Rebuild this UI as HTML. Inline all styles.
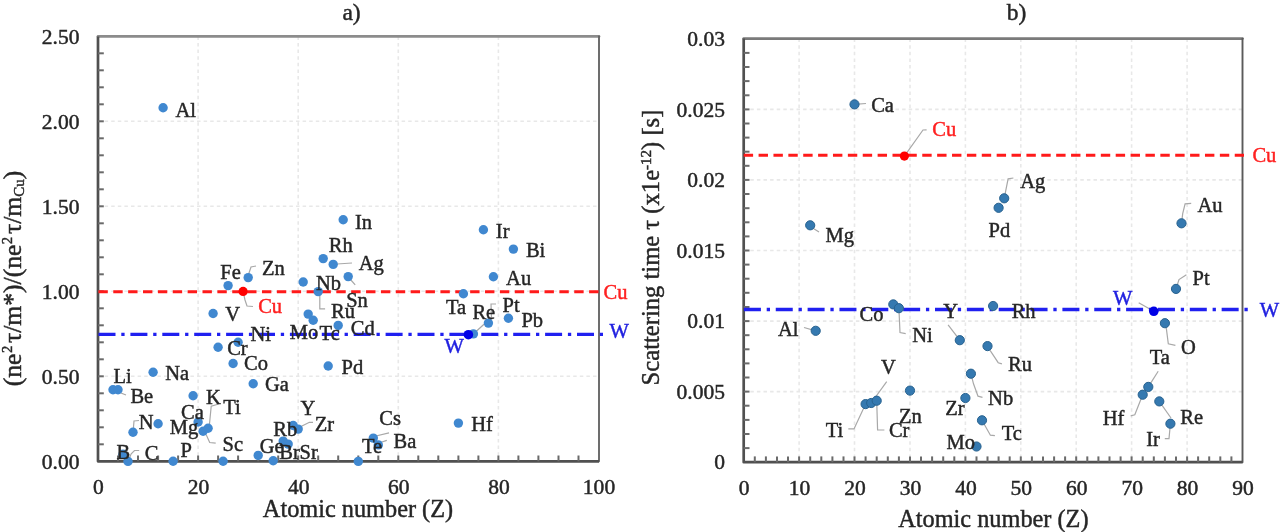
<!DOCTYPE html>
<html><head><meta charset="utf-8"><style>
html,body{margin:0;padding:0;background:#fff;}
svg{display:block;font-family:"Liberation Serif", serif;filter:blur(0.65px);}
</style></head><body>
<svg width="1280" height="532" viewBox="0 0 1280 532">
<rect width="1280" height="532" fill="#fff"/>
<line x1="198.1" y1="36.4" x2="198.1" y2="461.3" stroke="#e8e8e8" stroke-width="1.6" stroke-dasharray="3.5 3.1"/>
<line x1="298.2" y1="36.4" x2="298.2" y2="461.3" stroke="#e8e8e8" stroke-width="1.6" stroke-dasharray="3.5 3.1"/>
<line x1="398.3" y1="36.4" x2="398.3" y2="461.3" stroke="#e8e8e8" stroke-width="1.6" stroke-dasharray="3.5 3.1"/>
<line x1="498.4" y1="36.4" x2="498.4" y2="461.3" stroke="#e8e8e8" stroke-width="1.6" stroke-dasharray="3.5 3.1"/>
<line x1="98" y1="376.3" x2="599" y2="376.3" stroke="#e8e8e8" stroke-width="1.6" stroke-dasharray="3.5 3.1"/>
<line x1="98" y1="291.3" x2="599" y2="291.3" stroke="#e8e8e8" stroke-width="1.6" stroke-dasharray="3.5 3.1"/>
<line x1="98" y1="206.3" x2="599" y2="206.3" stroke="#e8e8e8" stroke-width="1.6" stroke-dasharray="3.5 3.1"/>
<line x1="98" y1="121.3" x2="599" y2="121.3" stroke="#e8e8e8" stroke-width="1.6" stroke-dasharray="3.5 3.1"/>
<path d="M98,36.4 L599,36.4" fill="none" stroke="#8c8c8c" stroke-width="2.7" stroke-linecap="round"/>
<path d="M599,36.4 L599,461.3" fill="none" stroke="#666666" stroke-width="1.9" stroke-linecap="round"/>
<path d="M98,36.4 L98,461.3 L599,461.3" fill="none" stroke="#505050" stroke-width="2.7" stroke-linejoin="round"/>
<line x1="98" y1="444.3" x2="103.8" y2="444.3" stroke="#6a6a6a" stroke-width="2"/>
<line x1="98" y1="427.3" x2="103.8" y2="427.3" stroke="#6a6a6a" stroke-width="2"/>
<line x1="98" y1="410.3" x2="103.8" y2="410.3" stroke="#6a6a6a" stroke-width="2"/>
<line x1="98" y1="393.3" x2="103.8" y2="393.3" stroke="#6a6a6a" stroke-width="2"/>
<line x1="98" y1="376.3" x2="103.8" y2="376.3" stroke="#6a6a6a" stroke-width="2"/>
<line x1="98" y1="359.3" x2="103.8" y2="359.3" stroke="#6a6a6a" stroke-width="2"/>
<line x1="98" y1="342.3" x2="103.8" y2="342.3" stroke="#6a6a6a" stroke-width="2"/>
<line x1="98" y1="325.3" x2="103.8" y2="325.3" stroke="#6a6a6a" stroke-width="2"/>
<line x1="98" y1="308.3" x2="103.8" y2="308.3" stroke="#6a6a6a" stroke-width="2"/>
<line x1="98" y1="291.3" x2="103.8" y2="291.3" stroke="#6a6a6a" stroke-width="2"/>
<line x1="98" y1="274.3" x2="103.8" y2="274.3" stroke="#6a6a6a" stroke-width="2"/>
<line x1="98" y1="257.3" x2="103.8" y2="257.3" stroke="#6a6a6a" stroke-width="2"/>
<line x1="98" y1="240.3" x2="103.8" y2="240.3" stroke="#6a6a6a" stroke-width="2"/>
<line x1="98" y1="223.3" x2="103.8" y2="223.3" stroke="#6a6a6a" stroke-width="2"/>
<line x1="98" y1="206.3" x2="103.8" y2="206.3" stroke="#6a6a6a" stroke-width="2"/>
<line x1="98" y1="189.3" x2="103.8" y2="189.3" stroke="#6a6a6a" stroke-width="2"/>
<line x1="98" y1="172.3" x2="103.8" y2="172.3" stroke="#6a6a6a" stroke-width="2"/>
<line x1="98" y1="155.3" x2="103.8" y2="155.3" stroke="#6a6a6a" stroke-width="2"/>
<line x1="98" y1="138.3" x2="103.8" y2="138.3" stroke="#6a6a6a" stroke-width="2"/>
<line x1="98" y1="121.3" x2="103.8" y2="121.3" stroke="#6a6a6a" stroke-width="2"/>
<line x1="98" y1="104.3" x2="103.8" y2="104.3" stroke="#6a6a6a" stroke-width="2"/>
<line x1="98" y1="87.3" x2="103.8" y2="87.3" stroke="#6a6a6a" stroke-width="2"/>
<line x1="98" y1="70.3" x2="103.8" y2="70.3" stroke="#6a6a6a" stroke-width="2"/>
<line x1="98" y1="53.3" x2="103.8" y2="53.3" stroke="#6a6a6a" stroke-width="2"/>
<line x1="118.0" y1="461.3" x2="118.0" y2="455.5" stroke="#6a6a6a" stroke-width="2"/>
<line x1="138.0" y1="461.3" x2="138.0" y2="455.5" stroke="#6a6a6a" stroke-width="2"/>
<line x1="158.1" y1="461.3" x2="158.1" y2="455.5" stroke="#6a6a6a" stroke-width="2"/>
<line x1="178.1" y1="461.3" x2="178.1" y2="455.5" stroke="#6a6a6a" stroke-width="2"/>
<line x1="198.1" y1="461.3" x2="198.1" y2="455.5" stroke="#6a6a6a" stroke-width="2"/>
<line x1="218.1" y1="461.3" x2="218.1" y2="455.5" stroke="#6a6a6a" stroke-width="2"/>
<line x1="238.1" y1="461.3" x2="238.1" y2="455.5" stroke="#6a6a6a" stroke-width="2"/>
<line x1="258.2" y1="461.3" x2="258.2" y2="455.5" stroke="#6a6a6a" stroke-width="2"/>
<line x1="278.2" y1="461.3" x2="278.2" y2="455.5" stroke="#6a6a6a" stroke-width="2"/>
<line x1="298.2" y1="461.3" x2="298.2" y2="455.5" stroke="#6a6a6a" stroke-width="2"/>
<line x1="318.2" y1="461.3" x2="318.2" y2="455.5" stroke="#6a6a6a" stroke-width="2"/>
<line x1="338.2" y1="461.3" x2="338.2" y2="455.5" stroke="#6a6a6a" stroke-width="2"/>
<line x1="358.3" y1="461.3" x2="358.3" y2="455.5" stroke="#6a6a6a" stroke-width="2"/>
<line x1="378.3" y1="461.3" x2="378.3" y2="455.5" stroke="#6a6a6a" stroke-width="2"/>
<line x1="398.3" y1="461.3" x2="398.3" y2="455.5" stroke="#6a6a6a" stroke-width="2"/>
<line x1="418.3" y1="461.3" x2="418.3" y2="455.5" stroke="#6a6a6a" stroke-width="2"/>
<line x1="438.3" y1="461.3" x2="438.3" y2="455.5" stroke="#6a6a6a" stroke-width="2"/>
<line x1="458.4" y1="461.3" x2="458.4" y2="455.5" stroke="#6a6a6a" stroke-width="2"/>
<line x1="478.4" y1="461.3" x2="478.4" y2="455.5" stroke="#6a6a6a" stroke-width="2"/>
<line x1="498.4" y1="461.3" x2="498.4" y2="455.5" stroke="#6a6a6a" stroke-width="2"/>
<line x1="518.4" y1="461.3" x2="518.4" y2="455.5" stroke="#6a6a6a" stroke-width="2"/>
<line x1="538.4" y1="461.3" x2="538.4" y2="455.5" stroke="#6a6a6a" stroke-width="2"/>
<line x1="558.5" y1="461.3" x2="558.5" y2="455.5" stroke="#6a6a6a" stroke-width="2"/>
<line x1="578.5" y1="461.3" x2="578.5" y2="455.5" stroke="#6a6a6a" stroke-width="2"/>
<text x="0" y="0" transform="translate(79.50,468.50) scale(1.05,1)" font-size="20.5" fill="#262626" stroke="#262626" stroke-width="0.45" text-anchor="end" >0.00</text>
<text x="0" y="0" transform="translate(79.50,383.50) scale(1.05,1)" font-size="20.5" fill="#262626" stroke="#262626" stroke-width="0.45" text-anchor="end" >0.50</text>
<text x="0" y="0" transform="translate(79.50,298.50) scale(1.05,1)" font-size="20.5" fill="#262626" stroke="#262626" stroke-width="0.45" text-anchor="end" >1.00</text>
<text x="0" y="0" transform="translate(79.50,213.50) scale(1.05,1)" font-size="20.5" fill="#262626" stroke="#262626" stroke-width="0.45" text-anchor="end" >1.50</text>
<text x="0" y="0" transform="translate(79.50,128.50) scale(1.05,1)" font-size="20.5" fill="#262626" stroke="#262626" stroke-width="0.45" text-anchor="end" >2.00</text>
<text x="0" y="0" transform="translate(79.50,43.50) scale(1.05,1)" font-size="20.5" fill="#262626" stroke="#262626" stroke-width="0.45" text-anchor="end" >2.50</text>
<text x="0" y="0" transform="translate(98.50,493.50) scale(1.05,1)" font-size="20.5" fill="#262626" stroke="#262626" stroke-width="0.45" text-anchor="middle" >0</text>
<text x="0" y="0" transform="translate(198.60,493.50) scale(1.05,1)" font-size="20.5" fill="#262626" stroke="#262626" stroke-width="0.45" text-anchor="middle" >20</text>
<text x="0" y="0" transform="translate(298.70,493.50) scale(1.05,1)" font-size="20.5" fill="#262626" stroke="#262626" stroke-width="0.45" text-anchor="middle" >40</text>
<text x="0" y="0" transform="translate(398.80,493.50) scale(1.05,1)" font-size="20.5" fill="#262626" stroke="#262626" stroke-width="0.45" text-anchor="middle" >60</text>
<text x="0" y="0" transform="translate(498.90,493.50) scale(1.05,1)" font-size="20.5" fill="#262626" stroke="#262626" stroke-width="0.45" text-anchor="middle" >80</text>
<text x="0" y="0" transform="translate(599.00,493.50) scale(1.05,1)" font-size="20.5" fill="#262626" stroke="#262626" stroke-width="0.45" text-anchor="middle" >100</text>
<text x="0" y="0" transform="translate(358.00,517.00)" font-size="24.3" fill="#262626" stroke="#262626" stroke-width="0.45" text-anchor="middle" >Atomic number (Z)</text>
<text x="0" y="0" transform="translate(351.50,20.00)" font-size="23.5" fill="#262626" stroke="#262626" stroke-width="0.45" text-anchor="middle" >a)</text>
<text transform="translate(20.8,278.5) rotate(-90)" font-size="25.6" fill="#262626" stroke="#262626" stroke-width="0.45" text-anchor="middle">(ne<tspan dy="-8.5" dx="0.5" font-size="14.5">2</tspan><tspan dy="8.5" dx="2.8">τ/m*)/(ne</tspan><tspan dy="-8.5" dx="0.5" font-size="14.5">2</tspan><tspan dy="8.5" dx="2.8">τ/m</tspan><tspan dy="3.5" font-size="15">Cu</tspan><tspan dy="-3.5">)</tspan></text>
<text x="0" y="0" transform="translate(603.50,298.50)" font-size="20.5" fill="#ff2020" stroke="#ff2020" stroke-width="0.45" text-anchor="start" >Cu</text>
<text x="0" y="0" transform="translate(609.50,338.00)" font-size="20.5" fill="#2020e0" stroke="#2020e0" stroke-width="0.45" text-anchor="start" >W</text>
<path d="M118.0,389.8 L121.0,393.0 L126.0,395.0" fill="none" stroke="#a8a8a8" stroke-width="1.2"/>
<path d="M128.0,461.4 L131.2,453.8 L134.5,450.5 L139.2,450.5" fill="none" stroke="#a8a8a8" stroke-width="1.2"/>
<path d="M133.0,432.3 L133.5,427.0 L134.0,421.0 L139.0,420.5" fill="none" stroke="#a8a8a8" stroke-width="1.2"/>
<path d="M203.1,431.2 L206.7,435.7 L209.7,442.5 L215.7,443.2" fill="none" stroke="#a8a8a8" stroke-width="1.2"/>
<path d="M208.1,428.3 L209.5,424.0 L211.2,406.3 L218.7,404.0" fill="none" stroke="#a8a8a8" stroke-width="1.2"/>
<path d="M248.2,277.6 L249.0,273.0 L251.0,267.0 L256.0,266.0" fill="none" stroke="#a8a8a8" stroke-width="1.2"/>
<path d="M298.2,429.1 L302.0,426.0 L309.4,422.3 L313.0,422.3" fill="none" stroke="#a8a8a8" stroke-width="1.2"/>
<path d="M318.2,291.6 L319.8,296.0 L319.8,308.9 L325.1,308.9" fill="none" stroke="#a8a8a8" stroke-width="1.2"/>
<path d="M333.2,264.4 L337.0,264.0 L352.0,263.0" fill="none" stroke="#a8a8a8" stroke-width="1.2"/>
<path d="M348.2,276.6 L350.5,279.5 L355.2,284.8" fill="none" stroke="#a8a8a8" stroke-width="1.2"/>
<path d="M373.3,438.1 L376.0,436.0 L389.0,432.9" fill="none" stroke="#a8a8a8" stroke-width="1.2"/>
<path d="M378.3,444.9 L382.0,442.0 L386.8,440.4" fill="none" stroke="#a8a8a8" stroke-width="1.2"/>
<path d="M473.4,333.9 L476.6,331.0 L484.0,324.3" fill="none" stroke="#a8a8a8" stroke-width="1.2"/>
<path d="M488.4,323.1 L491.5,318.0 L491.0,304.0 L496.0,304.0" fill="none" stroke="#a8a8a8" stroke-width="1.2"/>
<path d="M243.1,291.4 L245.0,300.0 L247.0,306.0 L253.0,306.5" fill="none" stroke="#a8a8a8" stroke-width="1.2"/>
<line x1="98" y1="291.7" x2="599" y2="291.7" stroke="#ff1a1a" stroke-width="3" stroke-dasharray="9.4 5.47" stroke-dashoffset="-0.4"/>
<line x1="98" y1="334.4" x2="603" y2="334.4" stroke="#2020f0" stroke-width="3.3" stroke-dasharray="17 5.8 3.3 5.8" stroke-dashoffset="-0.5"/>
<circle cx="113.0" cy="389.8" r="4.7" fill="#4088d0"/>
<circle cx="118.0" cy="389.8" r="4.7" fill="#4088d0"/>
<circle cx="123.0" cy="454.3" r="4.7" fill="#4088d0"/>
<circle cx="128.0" cy="461.4" r="4.7" fill="#4088d0"/>
<circle cx="133.0" cy="432.3" r="4.7" fill="#4088d0"/>
<circle cx="153.1" cy="372.3" r="4.7" fill="#4088d0"/>
<circle cx="158.1" cy="423.8" r="4.7" fill="#4088d0"/>
<circle cx="163.1" cy="107.8" r="4.7" fill="#4088d0"/>
<circle cx="173.1" cy="461.2" r="4.7" fill="#4088d0"/>
<circle cx="193.1" cy="395.8" r="4.7" fill="#4088d0"/>
<circle cx="198.1" cy="422" r="4.7" fill="#4088d0"/>
<circle cx="203.1" cy="431.2" r="4.7" fill="#4088d0"/>
<circle cx="208.1" cy="428.3" r="4.7" fill="#4088d0"/>
<circle cx="213.1" cy="313.5" r="4.7" fill="#4088d0"/>
<circle cx="218.1" cy="347.2" r="4.7" fill="#4088d0"/>
<circle cx="223.1" cy="461.25" r="4.7" fill="#4088d0"/>
<circle cx="228.1" cy="285.6" r="4.7" fill="#4088d0"/>
<circle cx="233.1" cy="363.5" r="4.7" fill="#4088d0"/>
<circle cx="238.1" cy="342.2" r="4.7" fill="#4088d0"/>
<circle cx="248.2" cy="277.6" r="4.7" fill="#4088d0"/>
<circle cx="253.2" cy="383.8" r="4.7" fill="#4088d0"/>
<circle cx="258.2" cy="455.4" r="4.7" fill="#4088d0"/>
<circle cx="273.2" cy="460.8" r="4.7" fill="#4088d0"/>
<circle cx="283.2" cy="441.1" r="4.7" fill="#4088d0"/>
<circle cx="288.2" cy="444.1" r="4.7" fill="#4088d0"/>
<circle cx="293.2" cy="425.5" r="4.7" fill="#4088d0"/>
<circle cx="298.2" cy="429.1" r="4.7" fill="#4088d0"/>
<circle cx="303.2" cy="282" r="4.7" fill="#4088d0"/>
<circle cx="308.2" cy="314.1" r="4.7" fill="#4088d0"/>
<circle cx="313.2" cy="320.2" r="4.7" fill="#4088d0"/>
<circle cx="318.2" cy="291.6" r="4.7" fill="#4088d0"/>
<circle cx="323.2" cy="258.6" r="4.7" fill="#4088d0"/>
<circle cx="328.2" cy="366" r="4.7" fill="#4088d0"/>
<circle cx="333.2" cy="264.4" r="4.7" fill="#4088d0"/>
<circle cx="338.2" cy="325.4" r="4.7" fill="#4088d0"/>
<circle cx="343.2" cy="219.7" r="4.7" fill="#4088d0"/>
<circle cx="348.2" cy="276.6" r="4.7" fill="#4088d0"/>
<circle cx="358.3" cy="461.4" r="4.7" fill="#4088d0"/>
<circle cx="373.3" cy="438.1" r="4.7" fill="#4088d0"/>
<circle cx="378.3" cy="444.9" r="4.7" fill="#4088d0"/>
<circle cx="458.4" cy="423.1" r="4.7" fill="#4088d0"/>
<circle cx="463.4" cy="293.7" r="4.7" fill="#4088d0"/>
<circle cx="473.4" cy="333.9" r="4.7" fill="#4088d0"/>
<circle cx="483.4" cy="229.7" r="4.7" fill="#4088d0"/>
<circle cx="488.4" cy="323.1" r="4.7" fill="#4088d0"/>
<circle cx="493.4" cy="276.7" r="4.7" fill="#4088d0"/>
<circle cx="508.4" cy="318.3" r="4.7" fill="#4088d0"/>
<circle cx="513.4" cy="249.1" r="4.7" fill="#4088d0"/>
<circle cx="243.1" cy="291.4" r="4.6" fill="#ff0000"/>
<circle cx="468.4" cy="334.7" r="4.8" fill="#0000e6"/>
<text x="0" y="0" transform="translate(113.50,383.20)" font-size="20.5" fill="#262626" stroke="#262626" stroke-width="0.45" text-anchor="start" >Li</text>
<text x="0" y="0" transform="translate(130.40,402.90)" font-size="20.5" fill="#262626" stroke="#262626" stroke-width="0.45" text-anchor="start" >Be</text>
<text x="0" y="0" transform="translate(116.60,458.50)" font-size="20.5" fill="#262626" stroke="#262626" stroke-width="0.45" text-anchor="start" >B</text>
<text x="0" y="0" transform="translate(144.80,459.50)" font-size="20.5" fill="#262626" stroke="#262626" stroke-width="0.45" text-anchor="start" >C</text>
<text x="0" y="0" transform="translate(138.80,429.40)" font-size="20.5" fill="#262626" stroke="#262626" stroke-width="0.45" text-anchor="start" >N</text>
<text x="0" y="0" transform="translate(165.20,380.30)" font-size="20.5" fill="#262626" stroke="#262626" stroke-width="0.45" text-anchor="start" >Na</text>
<text x="0" y="0" transform="translate(169.70,434.30)" font-size="20.5" fill="#262626" stroke="#262626" stroke-width="0.45" text-anchor="start" >Mg</text>
<text x="0" y="0" transform="translate(175.40,116.60)" font-size="20.5" fill="#262626" stroke="#262626" stroke-width="0.45" text-anchor="start" >Al</text>
<text x="0" y="0" transform="translate(180.60,456.80)" font-size="20.5" fill="#262626" stroke="#262626" stroke-width="0.45" text-anchor="start" >P</text>
<text x="0" y="0" transform="translate(205.90,403.50)" font-size="20.5" fill="#262626" stroke="#262626" stroke-width="0.45" text-anchor="start" >K</text>
<text x="0" y="0" transform="translate(181.00,418.90)" font-size="20.5" fill="#262626" stroke="#262626" stroke-width="0.45" text-anchor="start" >Ca</text>
<text x="0" y="0" transform="translate(222.50,451.20)" font-size="20.5" fill="#262626" stroke="#262626" stroke-width="0.45" text-anchor="start" >Sc</text>
<text x="0" y="0" transform="translate(223.20,414.40)" font-size="20.5" fill="#262626" stroke="#262626" stroke-width="0.45" text-anchor="start" >Ti</text>
<text x="0" y="0" transform="translate(225.30,321.00)" font-size="20.5" fill="#262626" stroke="#262626" stroke-width="0.45" text-anchor="start" >V</text>
<text x="0" y="0" transform="translate(227.20,354.90)" font-size="20.5" fill="#262626" stroke="#262626" stroke-width="0.45" text-anchor="start" >Cr</text>
<text x="0" y="0" transform="translate(220.30,278.50)" font-size="20.5" fill="#262626" stroke="#262626" stroke-width="0.45" text-anchor="start" >Fe</text>
<text x="0" y="0" transform="translate(244.00,369.50)" font-size="20.5" fill="#262626" stroke="#262626" stroke-width="0.45" text-anchor="start" >Co</text>
<text x="0" y="0" transform="translate(250.50,340.50)" font-size="20.5" fill="#262626" stroke="#262626" stroke-width="0.45" text-anchor="start" >Ni</text>
<text x="0" y="0" transform="translate(262.00,274.50)" font-size="20.5" fill="#262626" stroke="#262626" stroke-width="0.45" text-anchor="start" >Zn</text>
<text x="0" y="0" transform="translate(265.00,390.90)" font-size="20.5" fill="#262626" stroke="#262626" stroke-width="0.45" text-anchor="start" >Ga</text>
<text x="0" y="0" transform="translate(259.80,452.90)" font-size="20.5" fill="#262626" stroke="#262626" stroke-width="0.45" text-anchor="start" >Ge</text>
<text x="0" y="0" transform="translate(279.30,458.90)" font-size="20.5" fill="#262626" stroke="#262626" stroke-width="0.45" text-anchor="start" >Br</text>
<text x="0" y="0" transform="translate(273.30,435.60)" font-size="20.5" fill="#262626" stroke="#262626" stroke-width="0.45" text-anchor="start" >Rb</text>
<text x="0" y="0" transform="translate(299.60,458.90)" font-size="20.5" fill="#262626" stroke="#262626" stroke-width="0.45" text-anchor="start" >Sr</text>
<text x="0" y="0" transform="translate(300.50,415.10)" font-size="20.5" fill="#262626" stroke="#262626" stroke-width="0.45" text-anchor="start" >Y</text>
<text x="0" y="0" transform="translate(314.70,431.10)" font-size="20.5" fill="#262626" stroke="#262626" stroke-width="0.45" text-anchor="start" >Zr</text>
<text x="0" y="0" transform="translate(316.00,289.80)" font-size="20.5" fill="#262626" stroke="#262626" stroke-width="0.45" text-anchor="start" >Nb</text>
<text x="0" y="0" transform="translate(289.80,339.10)" font-size="20.5" fill="#262626" stroke="#262626" stroke-width="0.45" text-anchor="start" >Mo</text>
<text x="0" y="0" transform="translate(319.60,339.70)" font-size="20.5" fill="#262626" stroke="#262626" stroke-width="0.45" text-anchor="start" >Tc</text>
<text x="0" y="0" transform="translate(331.10,317.60)" font-size="20.5" fill="#262626" stroke="#262626" stroke-width="0.45" text-anchor="start" >Ru</text>
<text x="0" y="0" transform="translate(328.80,251.50)" font-size="20.5" fill="#262626" stroke="#262626" stroke-width="0.45" text-anchor="start" >Rh</text>
<text x="0" y="0" transform="translate(341.50,374.10)" font-size="20.5" fill="#262626" stroke="#262626" stroke-width="0.45" text-anchor="start" >Pd</text>
<text x="0" y="0" transform="translate(358.80,270.00)" font-size="20.5" fill="#262626" stroke="#262626" stroke-width="0.45" text-anchor="start" >Ag</text>
<text x="0" y="0" transform="translate(350.80,334.50)" font-size="20.5" fill="#262626" stroke="#262626" stroke-width="0.45" text-anchor="start" >Cd</text>
<text x="0" y="0" transform="translate(355.00,228.70)" font-size="20.5" fill="#262626" stroke="#262626" stroke-width="0.45" text-anchor="start" >In</text>
<text x="0" y="0" transform="translate(346.20,307.10)" font-size="20.5" fill="#262626" stroke="#262626" stroke-width="0.45" text-anchor="start" >Sn</text>
<text x="0" y="0" transform="translate(362.00,452.90)" font-size="20.5" fill="#262626" stroke="#262626" stroke-width="0.45" text-anchor="start" >Te</text>
<text x="0" y="0" transform="translate(379.30,425.10)" font-size="20.5" fill="#262626" stroke="#262626" stroke-width="0.45" text-anchor="start" >Cs</text>
<text x="0" y="0" transform="translate(393.60,448.40)" font-size="20.5" fill="#262626" stroke="#262626" stroke-width="0.45" text-anchor="start" >Ba</text>
<text x="0" y="0" transform="translate(471.30,430.80)" font-size="20.5" fill="#262626" stroke="#262626" stroke-width="0.45" text-anchor="start" >Hf</text>
<text x="0" y="0" transform="translate(446.00,314.30)" font-size="20.5" fill="#262626" stroke="#262626" stroke-width="0.45" text-anchor="start" >Ta</text>
<text x="0" y="0" transform="translate(472.40,318.70)" font-size="20.5" fill="#262626" stroke="#262626" stroke-width="0.45" text-anchor="start" >Re</text>
<text x="0" y="0" transform="translate(495.80,237.80)" font-size="20.5" fill="#262626" stroke="#262626" stroke-width="0.45" text-anchor="start" >Ir</text>
<text x="0" y="0" transform="translate(502.50,311.70)" font-size="20.5" fill="#262626" stroke="#262626" stroke-width="0.45" text-anchor="start" >Pt</text>
<text x="0" y="0" transform="translate(506.10,284.70)" font-size="20.5" fill="#262626" stroke="#262626" stroke-width="0.45" text-anchor="start" >Au</text>
<text x="0" y="0" transform="translate(521.40,326.60)" font-size="20.5" fill="#262626" stroke="#262626" stroke-width="0.45" text-anchor="start" >Pb</text>
<text x="0" y="0" transform="translate(525.90,257.10)" font-size="20.5" fill="#262626" stroke="#262626" stroke-width="0.45" text-anchor="start" >Bi</text>
<text x="0" y="0" transform="translate(258.20,313.00)" font-size="20.5" fill="#ff2020" stroke="#ff2020" stroke-width="0.45" text-anchor="start" >Cu</text>
<text x="0" y="0" transform="translate(444.50,352.50)" font-size="20.5" fill="#2020e0" stroke="#2020e0" stroke-width="0.45" text-anchor="start" >W</text>
<line x1="799.1" y1="38.6" x2="799.1" y2="462.2" stroke="#e8e8e8" stroke-width="1.6" stroke-dasharray="3.5 3.1"/>
<line x1="854.5" y1="38.6" x2="854.5" y2="462.2" stroke="#e8e8e8" stroke-width="1.6" stroke-dasharray="3.5 3.1"/>
<line x1="910.0" y1="38.6" x2="910.0" y2="462.2" stroke="#e8e8e8" stroke-width="1.6" stroke-dasharray="3.5 3.1"/>
<line x1="965.4" y1="38.6" x2="965.4" y2="462.2" stroke="#e8e8e8" stroke-width="1.6" stroke-dasharray="3.5 3.1"/>
<line x1="1020.8" y1="38.6" x2="1020.8" y2="462.2" stroke="#e8e8e8" stroke-width="1.6" stroke-dasharray="3.5 3.1"/>
<line x1="1076.2" y1="38.6" x2="1076.2" y2="462.2" stroke="#e8e8e8" stroke-width="1.6" stroke-dasharray="3.5 3.1"/>
<line x1="1131.6" y1="38.6" x2="1131.6" y2="462.2" stroke="#e8e8e8" stroke-width="1.6" stroke-dasharray="3.5 3.1"/>
<line x1="1187.1" y1="38.6" x2="1187.1" y2="462.2" stroke="#e8e8e8" stroke-width="1.6" stroke-dasharray="3.5 3.1"/>
<line x1="743.7" y1="391.6" x2="1242.5" y2="391.6" stroke="#e8e8e8" stroke-width="1.6" stroke-dasharray="3.5 3.1"/>
<line x1="743.7" y1="321.1" x2="1242.5" y2="321.1" stroke="#e8e8e8" stroke-width="1.6" stroke-dasharray="3.5 3.1"/>
<line x1="743.7" y1="250.5" x2="1242.5" y2="250.5" stroke="#e8e8e8" stroke-width="1.6" stroke-dasharray="3.5 3.1"/>
<line x1="743.7" y1="179.9" x2="1242.5" y2="179.9" stroke="#e8e8e8" stroke-width="1.6" stroke-dasharray="3.5 3.1"/>
<line x1="743.7" y1="109.4" x2="1242.5" y2="109.4" stroke="#e8e8e8" stroke-width="1.6" stroke-dasharray="3.5 3.1"/>
<path d="M743.7,38.6 L1242.5,38.6" fill="none" stroke="#7a7a7a" stroke-width="2.7" stroke-linecap="round"/>
<path d="M1242.5,38.6 L1242.5,462.2" fill="none" stroke="#5a5a5a" stroke-width="1.9" stroke-linecap="round"/>
<path d="M743.7,38.6 L743.7,462.2 L1242.5,462.2" fill="none" stroke="#505050" stroke-width="2.7" stroke-linejoin="round"/>
<line x1="743.7" y1="448.1" x2="749.5" y2="448.1" stroke="#6a6a6a" stroke-width="2"/>
<line x1="743.7" y1="434.0" x2="749.5" y2="434.0" stroke="#6a6a6a" stroke-width="2"/>
<line x1="743.7" y1="419.9" x2="749.5" y2="419.9" stroke="#6a6a6a" stroke-width="2"/>
<line x1="743.7" y1="405.7" x2="749.5" y2="405.7" stroke="#6a6a6a" stroke-width="2"/>
<line x1="743.7" y1="391.6" x2="749.5" y2="391.6" stroke="#6a6a6a" stroke-width="2"/>
<line x1="743.7" y1="377.5" x2="749.5" y2="377.5" stroke="#6a6a6a" stroke-width="2"/>
<line x1="743.7" y1="363.4" x2="749.5" y2="363.4" stroke="#6a6a6a" stroke-width="2"/>
<line x1="743.7" y1="349.3" x2="749.5" y2="349.3" stroke="#6a6a6a" stroke-width="2"/>
<line x1="743.7" y1="335.2" x2="749.5" y2="335.2" stroke="#6a6a6a" stroke-width="2"/>
<line x1="743.7" y1="321.1" x2="749.5" y2="321.1" stroke="#6a6a6a" stroke-width="2"/>
<line x1="743.7" y1="307.0" x2="749.5" y2="307.0" stroke="#6a6a6a" stroke-width="2"/>
<line x1="743.7" y1="292.8" x2="749.5" y2="292.8" stroke="#6a6a6a" stroke-width="2"/>
<line x1="743.7" y1="278.7" x2="749.5" y2="278.7" stroke="#6a6a6a" stroke-width="2"/>
<line x1="743.7" y1="264.6" x2="749.5" y2="264.6" stroke="#6a6a6a" stroke-width="2"/>
<line x1="743.7" y1="250.5" x2="749.5" y2="250.5" stroke="#6a6a6a" stroke-width="2"/>
<line x1="743.7" y1="236.4" x2="749.5" y2="236.4" stroke="#6a6a6a" stroke-width="2"/>
<line x1="743.7" y1="222.3" x2="749.5" y2="222.3" stroke="#6a6a6a" stroke-width="2"/>
<line x1="743.7" y1="208.2" x2="749.5" y2="208.2" stroke="#6a6a6a" stroke-width="2"/>
<line x1="743.7" y1="194.0" x2="749.5" y2="194.0" stroke="#6a6a6a" stroke-width="2"/>
<line x1="743.7" y1="179.9" x2="749.5" y2="179.9" stroke="#6a6a6a" stroke-width="2"/>
<line x1="743.7" y1="165.8" x2="749.5" y2="165.8" stroke="#6a6a6a" stroke-width="2"/>
<line x1="743.7" y1="151.7" x2="749.5" y2="151.7" stroke="#6a6a6a" stroke-width="2"/>
<line x1="743.7" y1="137.6" x2="749.5" y2="137.6" stroke="#6a6a6a" stroke-width="2"/>
<line x1="743.7" y1="123.5" x2="749.5" y2="123.5" stroke="#6a6a6a" stroke-width="2"/>
<line x1="743.7" y1="109.4" x2="749.5" y2="109.4" stroke="#6a6a6a" stroke-width="2"/>
<line x1="743.7" y1="95.3" x2="749.5" y2="95.3" stroke="#6a6a6a" stroke-width="2"/>
<line x1="743.7" y1="81.1" x2="749.5" y2="81.1" stroke="#6a6a6a" stroke-width="2"/>
<line x1="743.7" y1="67.0" x2="749.5" y2="67.0" stroke="#6a6a6a" stroke-width="2"/>
<line x1="743.7" y1="52.9" x2="749.5" y2="52.9" stroke="#6a6a6a" stroke-width="2"/>
<line x1="754.8" y1="462.2" x2="754.8" y2="456.4" stroke="#6a6a6a" stroke-width="2"/>
<line x1="765.9" y1="462.2" x2="765.9" y2="456.4" stroke="#6a6a6a" stroke-width="2"/>
<line x1="777.0" y1="462.2" x2="777.0" y2="456.4" stroke="#6a6a6a" stroke-width="2"/>
<line x1="788.0" y1="462.2" x2="788.0" y2="456.4" stroke="#6a6a6a" stroke-width="2"/>
<line x1="799.1" y1="462.2" x2="799.1" y2="456.4" stroke="#6a6a6a" stroke-width="2"/>
<line x1="810.2" y1="462.2" x2="810.2" y2="456.4" stroke="#6a6a6a" stroke-width="2"/>
<line x1="821.3" y1="462.2" x2="821.3" y2="456.4" stroke="#6a6a6a" stroke-width="2"/>
<line x1="832.4" y1="462.2" x2="832.4" y2="456.4" stroke="#6a6a6a" stroke-width="2"/>
<line x1="843.5" y1="462.2" x2="843.5" y2="456.4" stroke="#6a6a6a" stroke-width="2"/>
<line x1="854.5" y1="462.2" x2="854.5" y2="456.4" stroke="#6a6a6a" stroke-width="2"/>
<line x1="865.6" y1="462.2" x2="865.6" y2="456.4" stroke="#6a6a6a" stroke-width="2"/>
<line x1="876.7" y1="462.2" x2="876.7" y2="456.4" stroke="#6a6a6a" stroke-width="2"/>
<line x1="887.8" y1="462.2" x2="887.8" y2="456.4" stroke="#6a6a6a" stroke-width="2"/>
<line x1="898.9" y1="462.2" x2="898.9" y2="456.4" stroke="#6a6a6a" stroke-width="2"/>
<line x1="910.0" y1="462.2" x2="910.0" y2="456.4" stroke="#6a6a6a" stroke-width="2"/>
<line x1="921.0" y1="462.2" x2="921.0" y2="456.4" stroke="#6a6a6a" stroke-width="2"/>
<line x1="932.1" y1="462.2" x2="932.1" y2="456.4" stroke="#6a6a6a" stroke-width="2"/>
<line x1="943.2" y1="462.2" x2="943.2" y2="456.4" stroke="#6a6a6a" stroke-width="2"/>
<line x1="954.3" y1="462.2" x2="954.3" y2="456.4" stroke="#6a6a6a" stroke-width="2"/>
<line x1="965.4" y1="462.2" x2="965.4" y2="456.4" stroke="#6a6a6a" stroke-width="2"/>
<line x1="976.5" y1="462.2" x2="976.5" y2="456.4" stroke="#6a6a6a" stroke-width="2"/>
<line x1="987.5" y1="462.2" x2="987.5" y2="456.4" stroke="#6a6a6a" stroke-width="2"/>
<line x1="998.6" y1="462.2" x2="998.6" y2="456.4" stroke="#6a6a6a" stroke-width="2"/>
<line x1="1009.7" y1="462.2" x2="1009.7" y2="456.4" stroke="#6a6a6a" stroke-width="2"/>
<line x1="1020.8" y1="462.2" x2="1020.8" y2="456.4" stroke="#6a6a6a" stroke-width="2"/>
<line x1="1031.9" y1="462.2" x2="1031.9" y2="456.4" stroke="#6a6a6a" stroke-width="2"/>
<line x1="1043.0" y1="462.2" x2="1043.0" y2="456.4" stroke="#6a6a6a" stroke-width="2"/>
<line x1="1054.1" y1="462.2" x2="1054.1" y2="456.4" stroke="#6a6a6a" stroke-width="2"/>
<line x1="1065.1" y1="462.2" x2="1065.1" y2="456.4" stroke="#6a6a6a" stroke-width="2"/>
<line x1="1076.2" y1="462.2" x2="1076.2" y2="456.4" stroke="#6a6a6a" stroke-width="2"/>
<line x1="1087.3" y1="462.2" x2="1087.3" y2="456.4" stroke="#6a6a6a" stroke-width="2"/>
<line x1="1098.4" y1="462.2" x2="1098.4" y2="456.4" stroke="#6a6a6a" stroke-width="2"/>
<line x1="1109.5" y1="462.2" x2="1109.5" y2="456.4" stroke="#6a6a6a" stroke-width="2"/>
<line x1="1120.6" y1="462.2" x2="1120.6" y2="456.4" stroke="#6a6a6a" stroke-width="2"/>
<line x1="1131.6" y1="462.2" x2="1131.6" y2="456.4" stroke="#6a6a6a" stroke-width="2"/>
<line x1="1142.7" y1="462.2" x2="1142.7" y2="456.4" stroke="#6a6a6a" stroke-width="2"/>
<line x1="1153.8" y1="462.2" x2="1153.8" y2="456.4" stroke="#6a6a6a" stroke-width="2"/>
<line x1="1164.9" y1="462.2" x2="1164.9" y2="456.4" stroke="#6a6a6a" stroke-width="2"/>
<line x1="1176.0" y1="462.2" x2="1176.0" y2="456.4" stroke="#6a6a6a" stroke-width="2"/>
<line x1="1187.1" y1="462.2" x2="1187.1" y2="456.4" stroke="#6a6a6a" stroke-width="2"/>
<line x1="1198.1" y1="462.2" x2="1198.1" y2="456.4" stroke="#6a6a6a" stroke-width="2"/>
<line x1="1209.2" y1="462.2" x2="1209.2" y2="456.4" stroke="#6a6a6a" stroke-width="2"/>
<line x1="1220.3" y1="462.2" x2="1220.3" y2="456.4" stroke="#6a6a6a" stroke-width="2"/>
<line x1="1231.4" y1="462.2" x2="1231.4" y2="456.4" stroke="#6a6a6a" stroke-width="2"/>
<text x="0" y="0" transform="translate(725.00,469.40) scale(1.05,1)" font-size="20.5" fill="#262626" stroke="#262626" stroke-width="0.45" text-anchor="end" >0</text>
<text x="0" y="0" transform="translate(725.00,398.83) scale(1.05,1)" font-size="20.5" fill="#262626" stroke="#262626" stroke-width="0.45" text-anchor="end" >0.005</text>
<text x="0" y="0" transform="translate(725.00,328.27) scale(1.05,1)" font-size="20.5" fill="#262626" stroke="#262626" stroke-width="0.45" text-anchor="end" >0.01</text>
<text x="0" y="0" transform="translate(725.00,257.70) scale(1.05,1)" font-size="20.5" fill="#262626" stroke="#262626" stroke-width="0.45" text-anchor="end" >0.015</text>
<text x="0" y="0" transform="translate(725.00,187.13) scale(1.05,1)" font-size="20.5" fill="#262626" stroke="#262626" stroke-width="0.45" text-anchor="end" >0.02</text>
<text x="0" y="0" transform="translate(725.00,116.57) scale(1.05,1)" font-size="20.5" fill="#262626" stroke="#262626" stroke-width="0.45" text-anchor="end" >0.025</text>
<text x="0" y="0" transform="translate(725.00,46.00) scale(1.05,1)" font-size="20.5" fill="#262626" stroke="#262626" stroke-width="0.45" text-anchor="end" >0.03</text>
<text x="0" y="0" transform="translate(744.20,494.50) scale(1.05,1)" font-size="20.5" fill="#262626" stroke="#262626" stroke-width="0.45" text-anchor="middle" >0</text>
<text x="0" y="0" transform="translate(799.62,494.50) scale(1.05,1)" font-size="20.5" fill="#262626" stroke="#262626" stroke-width="0.45" text-anchor="middle" >10</text>
<text x="0" y="0" transform="translate(855.04,494.50) scale(1.05,1)" font-size="20.5" fill="#262626" stroke="#262626" stroke-width="0.45" text-anchor="middle" >20</text>
<text x="0" y="0" transform="translate(910.46,494.50) scale(1.05,1)" font-size="20.5" fill="#262626" stroke="#262626" stroke-width="0.45" text-anchor="middle" >30</text>
<text x="0" y="0" transform="translate(965.88,494.50) scale(1.05,1)" font-size="20.5" fill="#262626" stroke="#262626" stroke-width="0.45" text-anchor="middle" >40</text>
<text x="0" y="0" transform="translate(1021.30,494.50) scale(1.05,1)" font-size="20.5" fill="#262626" stroke="#262626" stroke-width="0.45" text-anchor="middle" >50</text>
<text x="0" y="0" transform="translate(1076.72,494.50) scale(1.05,1)" font-size="20.5" fill="#262626" stroke="#262626" stroke-width="0.45" text-anchor="middle" >60</text>
<text x="0" y="0" transform="translate(1132.14,494.50) scale(1.05,1)" font-size="20.5" fill="#262626" stroke="#262626" stroke-width="0.45" text-anchor="middle" >70</text>
<text x="0" y="0" transform="translate(1187.56,494.50) scale(1.05,1)" font-size="20.5" fill="#262626" stroke="#262626" stroke-width="0.45" text-anchor="middle" >80</text>
<text x="0" y="0" transform="translate(1242.98,494.50) scale(1.05,1)" font-size="20.5" fill="#262626" stroke="#262626" stroke-width="0.45" text-anchor="middle" >90</text>
<text x="0" y="0" transform="translate(993.40,527.00)" font-size="24.3" fill="#262626" stroke="#262626" stroke-width="0.45" text-anchor="middle" >Atomic number (Z)</text>
<text x="0" y="0" transform="translate(1016.50,20.00)" font-size="23.5" fill="#262626" stroke="#262626" stroke-width="0.45" text-anchor="middle" >b)</text>
<text transform="translate(659,247.5) rotate(-90)" font-size="24.6" fill="#262626" stroke="#262626" stroke-width="0.45" text-anchor="middle">Scattering time τ (x1e<tspan dy="-8" font-size="15">-12</tspan><tspan dy="8">) [s]</tspan></text>
<text x="0" y="0" transform="translate(1252.40,162.00)" font-size="20.5" fill="#ff2020" stroke="#ff2020" stroke-width="0.45" text-anchor="start" >Cu</text>
<text x="0" y="0" transform="translate(1259.70,316.50)" font-size="20.5" fill="#2020e0" stroke="#2020e0" stroke-width="0.45" text-anchor="start" >W</text>
<path d="M810.2,225.3 L813.5,228.5 L819.0,232.0" fill="none" stroke="#a8a8a8" stroke-width="1.2"/>
<path d="M815.7,330.8 L804.0,327.5" fill="none" stroke="#a8a8a8" stroke-width="1.2"/>
<path d="M854.5,104.4 L866.0,103.5" fill="none" stroke="#a8a8a8" stroke-width="1.2"/>
<path d="M865.6,404.1 L854.0,428.9 L848.3,428.9" fill="none" stroke="#a8a8a8" stroke-width="1.2"/>
<path d="M871.2,403.0 L886.7,381.6" fill="none" stroke="#a8a8a8" stroke-width="1.2"/>
<path d="M876.7,400.7 L877.6,430.0 L884.4,430.0" fill="none" stroke="#a8a8a8" stroke-width="1.2"/>
<path d="M898.9,308.2 L900.0,332.6 L905.7,333.6" fill="none" stroke="#a8a8a8" stroke-width="1.2"/>
<path d="M959.8,340.2 L948.1,324.8" fill="none" stroke="#a8a8a8" stroke-width="1.2"/>
<path d="M970.9,373.7 L973.5,383.8 L978.0,396.2 L982.5,397.3" fill="none" stroke="#a8a8a8" stroke-width="1.2"/>
<path d="M982.0,420.3 L990.4,435.2 L994.9,435.7" fill="none" stroke="#a8a8a8" stroke-width="1.2"/>
<path d="M987.5,346.1 L990.9,351.7 L998.2,362.7 L1001.9,363.9" fill="none" stroke="#a8a8a8" stroke-width="1.2"/>
<path d="M1004.2,198.3 L1005.1,193.8 L1008.1,178.8 L1013.4,178.0" fill="none" stroke="#a8a8a8" stroke-width="1.2"/>
<path d="M1142.7,394.7 L1134.8,414.8 L1130.7,415.8" fill="none" stroke="#a8a8a8" stroke-width="1.2"/>
<path d="M1148.3,386.9 L1158.2,371.2" fill="none" stroke="#a8a8a8" stroke-width="1.2"/>
<path d="M1159.3,401.4 L1171.0,418.0" fill="none" stroke="#a8a8a8" stroke-width="1.2"/>
<path d="M1164.9,323.2 L1166.4,328.8 L1168.3,343.8 L1175.4,345.3" fill="none" stroke="#a8a8a8" stroke-width="1.2"/>
<path d="M1170.4,423.7 L1169.0,438.6 L1164.8,438.6" fill="none" stroke="#a8a8a8" stroke-width="1.2"/>
<path d="M1176.0,288.9 L1179.0,279.6 L1186.4,274.7" fill="none" stroke="#a8a8a8" stroke-width="1.2"/>
<path d="M1181.5,223.3 L1182.7,213.6 L1185.1,203.8 L1191.2,203.3" fill="none" stroke="#a8a8a8" stroke-width="1.2"/>
<path d="M904.4,156.1 L923.0,130.0 L926.6,129.8" fill="none" stroke="#a8a8a8" stroke-width="1.2"/>
<path d="M1153.8,311.3 L1138.7,302.8" fill="none" stroke="#a8a8a8" stroke-width="1.2"/>
<line x1="743.7" y1="155.3" x2="1244.0" y2="155.3" stroke="#ff1a1a" stroke-width="3" stroke-dasharray="9.4 5.48"/>
<line x1="743.7" y1="309.5" x2="1249.0" y2="309.5" stroke="#2020f0" stroke-width="3.3" stroke-dasharray="17 5.8 3.3 5.75" stroke-dashoffset="-0.2"/>
<circle cx="810.2" cy="225.3" r="4.6" fill="#3579b0" stroke="#28628f" stroke-width="1"/>
<circle cx="815.7" cy="330.8" r="4.6" fill="#3579b0" stroke="#28628f" stroke-width="1"/>
<circle cx="854.5" cy="104.4" r="4.6" fill="#3579b0" stroke="#28628f" stroke-width="1"/>
<circle cx="865.6" cy="404.1" r="4.6" fill="#3579b0" stroke="#28628f" stroke-width="1"/>
<circle cx="871.2" cy="403" r="4.6" fill="#3579b0" stroke="#28628f" stroke-width="1"/>
<circle cx="876.7" cy="400.7" r="4.6" fill="#3579b0" stroke="#28628f" stroke-width="1"/>
<circle cx="893.3" cy="304.4" r="4.6" fill="#3579b0" stroke="#28628f" stroke-width="1"/>
<circle cx="898.9" cy="308.2" r="4.6" fill="#3579b0" stroke="#28628f" stroke-width="1"/>
<circle cx="910.0" cy="390.6" r="4.6" fill="#3579b0" stroke="#28628f" stroke-width="1"/>
<circle cx="959.8" cy="340.2" r="4.6" fill="#3579b0" stroke="#28628f" stroke-width="1"/>
<circle cx="965.4" cy="398" r="4.6" fill="#3579b0" stroke="#28628f" stroke-width="1"/>
<circle cx="970.9" cy="373.7" r="4.6" fill="#3579b0" stroke="#28628f" stroke-width="1"/>
<circle cx="976.5" cy="446.5" r="4.6" fill="#3579b0" stroke="#28628f" stroke-width="1"/>
<circle cx="982.0" cy="420.3" r="4.6" fill="#3579b0" stroke="#28628f" stroke-width="1"/>
<circle cx="987.5" cy="346.1" r="4.6" fill="#3579b0" stroke="#28628f" stroke-width="1"/>
<circle cx="993.1" cy="306" r="4.6" fill="#3579b0" stroke="#28628f" stroke-width="1"/>
<circle cx="998.6" cy="207.8" r="4.6" fill="#3579b0" stroke="#28628f" stroke-width="1"/>
<circle cx="1004.2" cy="198.3" r="4.6" fill="#3579b0" stroke="#28628f" stroke-width="1"/>
<circle cx="1142.7" cy="394.7" r="4.6" fill="#3579b0" stroke="#28628f" stroke-width="1"/>
<circle cx="1148.3" cy="386.9" r="4.6" fill="#3579b0" stroke="#28628f" stroke-width="1"/>
<circle cx="1159.3" cy="401.4" r="4.6" fill="#3579b0" stroke="#28628f" stroke-width="1"/>
<circle cx="1164.9" cy="323.2" r="4.6" fill="#3579b0" stroke="#28628f" stroke-width="1"/>
<circle cx="1170.4" cy="423.7" r="4.6" fill="#3579b0" stroke="#28628f" stroke-width="1"/>
<circle cx="1176.0" cy="288.9" r="4.6" fill="#3579b0" stroke="#28628f" stroke-width="1"/>
<circle cx="1181.5" cy="223.3" r="4.6" fill="#3579b0" stroke="#28628f" stroke-width="1"/>
<circle cx="904.4" cy="156.1" r="4.6" fill="#ff0000"/>
<circle cx="1153.8" cy="311.3" r="4.8" fill="#0000e6"/>
<text x="0" y="0" transform="translate(825.50,241.50)" font-size="20.5" fill="#262626" stroke="#262626" stroke-width="0.45" text-anchor="start" >Mg</text>
<text x="0" y="0" transform="translate(777.90,336.00)" font-size="20.5" fill="#262626" stroke="#262626" stroke-width="0.45" text-anchor="start" >Al</text>
<text x="0" y="0" transform="translate(871.20,111.50)" font-size="20.5" fill="#262626" stroke="#262626" stroke-width="0.45" text-anchor="start" >Ca</text>
<text x="0" y="0" transform="translate(825.80,437.30)" font-size="20.5" fill="#262626" stroke="#262626" stroke-width="0.45" text-anchor="start" >Ti</text>
<text x="0" y="0" transform="translate(881.00,374.20)" font-size="20.5" fill="#262626" stroke="#262626" stroke-width="0.45" text-anchor="start" >V</text>
<text x="0" y="0" transform="translate(888.90,437.30)" font-size="20.5" fill="#262626" stroke="#262626" stroke-width="0.45" text-anchor="start" >Cr</text>
<text x="0" y="0" transform="translate(859.60,320.90)" font-size="20.5" fill="#262626" stroke="#262626" stroke-width="0.45" text-anchor="start" >Co</text>
<text x="0" y="0" transform="translate(912.30,341.60)" font-size="20.5" fill="#262626" stroke="#262626" stroke-width="0.45" text-anchor="start" >Ni</text>
<text x="0" y="0" transform="translate(899.00,422.70)" font-size="20.5" fill="#262626" stroke="#262626" stroke-width="0.45" text-anchor="start" >Zn</text>
<text x="0" y="0" transform="translate(943.20,318.00)" font-size="20.5" fill="#262626" stroke="#262626" stroke-width="0.45" text-anchor="start" >Y</text>
<text x="0" y="0" transform="translate(945.30,414.80)" font-size="20.5" fill="#262626" stroke="#262626" stroke-width="0.45" text-anchor="start" >Zr</text>
<text x="0" y="0" transform="translate(988.10,404.60)" font-size="20.5" fill="#262626" stroke="#262626" stroke-width="0.45" text-anchor="start" >Nb</text>
<text x="0" y="0" transform="translate(946.40,448.60)" font-size="20.5" fill="#262626" stroke="#262626" stroke-width="0.45" text-anchor="start" >Mo</text>
<text x="0" y="0" transform="translate(1001.70,439.50)" font-size="20.5" fill="#262626" stroke="#262626" stroke-width="0.45" text-anchor="start" >Tc</text>
<text x="0" y="0" transform="translate(1008.00,370.50)" font-size="20.5" fill="#262626" stroke="#262626" stroke-width="0.45" text-anchor="start" >Ru</text>
<text x="0" y="0" transform="translate(1011.70,318.00)" font-size="20.5" fill="#262626" stroke="#262626" stroke-width="0.45" text-anchor="start" >Rh</text>
<text x="0" y="0" transform="translate(988.60,236.50)" font-size="20.5" fill="#262626" stroke="#262626" stroke-width="0.45" text-anchor="start" >Pd</text>
<text x="0" y="0" transform="translate(1020.20,187.50)" font-size="20.5" fill="#262626" stroke="#262626" stroke-width="0.45" text-anchor="start" >Ag</text>
<text x="0" y="0" transform="translate(1102.80,424.60)" font-size="20.5" fill="#262626" stroke="#262626" stroke-width="0.45" text-anchor="start" >Hf</text>
<text x="0" y="0" transform="translate(1149.70,364.40)" font-size="20.5" fill="#262626" stroke="#262626" stroke-width="0.45" text-anchor="start" >Ta</text>
<text x="0" y="0" transform="translate(1180.30,423.60)" font-size="20.5" fill="#262626" stroke="#262626" stroke-width="0.45" text-anchor="start" >Re</text>
<text x="0" y="0" transform="translate(1181.00,353.50)" font-size="20.5" fill="#262626" stroke="#262626" stroke-width="0.45" text-anchor="start" >O</text>
<text x="0" y="0" transform="translate(1146.20,446.30)" font-size="20.5" fill="#262626" stroke="#262626" stroke-width="0.45" text-anchor="start" >Ir</text>
<text x="0" y="0" transform="translate(1192.50,284.90)" font-size="20.5" fill="#262626" stroke="#262626" stroke-width="0.45" text-anchor="start" >Pt</text>
<text x="0" y="0" transform="translate(1197.40,211.60)" font-size="20.5" fill="#262626" stroke="#262626" stroke-width="0.45" text-anchor="start" >Au</text>
<text x="0" y="0" transform="translate(932.30,136.40)" font-size="20.5" fill="#ff2020" stroke="#ff2020" stroke-width="0.45" text-anchor="start" >Cu</text>
<text x="0" y="0" transform="translate(1113.00,305.20)" font-size="20.5" fill="#2020e0" stroke="#2020e0" stroke-width="0.45" text-anchor="start" >W</text>
</svg></body></html>
